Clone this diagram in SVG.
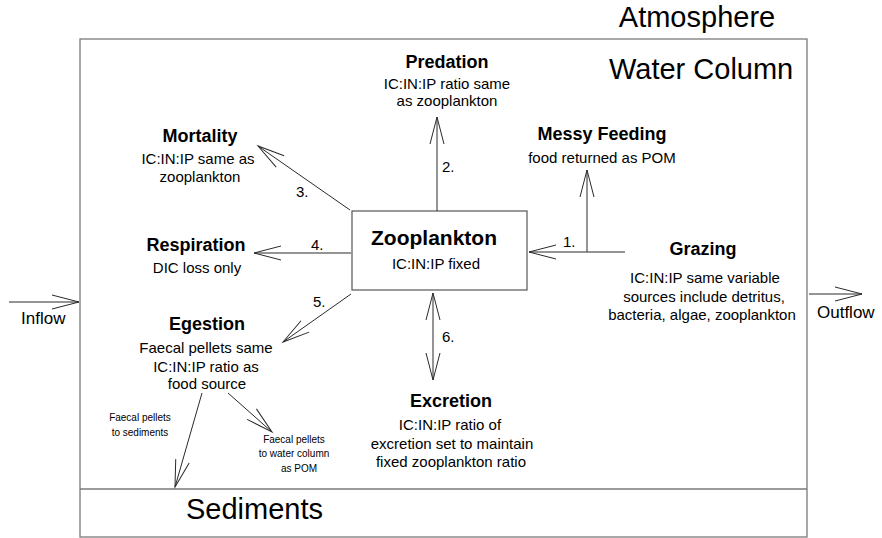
<svg xmlns="http://www.w3.org/2000/svg" width="882" height="538" viewBox="0 0 882 538">
  <style>
    text { font-family: "Liberation Sans", Arial, sans-serif; fill: #000; }
    .frame { fill: none; stroke: #7a7a7a; stroke-width: 1.3; }
    .box { fill: #fff; stroke: #555; stroke-width: 1.2; }
    .arrow { fill: none; stroke: #2a2a2a; stroke-width: 1; marker-end: url(#head); }
    .both { marker-start: url(#head); }
    .plain { fill: none; stroke: #2a2a2a; stroke-width: 1; }
    .zone { font-size: 29px; }
    .title { font-size: 18px; font-weight: bold; text-anchor: middle; }
    .main { font-size: 21px; font-weight: bold; text-anchor: middle; }
    .note { font-size: 15px; text-anchor: middle; }
    .small { font-size: 10px; text-anchor: middle; }
    .num { font-size: 15px; }
  </style>
  <defs>
    <!-- open V arrowhead, long and narrow -->
    <marker id="head" markerUnits="userSpaceOnUse" markerWidth="30" markerHeight="16" refX="0" refY="0" orient="auto-start-reverse" overflow="visible">
      <path d="M-27,-7 L0,0 L-27,7" fill="none" stroke="#2a2a2a" stroke-width="1"/>
    </marker>
  </defs>

  <!-- compartments -->
  <g id="water-column">
    <rect class="frame" x="80" y="39" width="727" height="498"/>
    <line class="frame" x1="80" y1="489" x2="807" y2="489"/>
    <text class="zone" x="609" y="79">Water Column</text>
  </g>
  <g id="atmosphere">
    <text class="zone" x="697" y="27" text-anchor="middle">Atmosphere</text>
  </g>
  <g id="sediments">
    <text class="zone" x="186" y="519">Sediments</text>
  </g>

  <!-- central state variable -->
  <g id="zooplankton">
    <rect class="box" x="352" y="211" width="175" height="79"/>
    <text class="main" x="434" y="245">Zooplankton</text>
    <text class="note" x="436" y="269">IC:IN:IP fixed</text>
  </g>

  <!-- process labels -->
  <g id="predation">
    <text class="title" x="447" y="68">Predation</text>
    <text class="note" x="447" y="89">IC:IN:IP ratio same</text>
    <text class="note" x="447" y="106">as zooplankton</text>
  </g>
  <g id="messy-feeding">
    <text class="title" x="602" y="140">Messy Feeding</text>
    <text class="note" x="602" y="163">food returned as POM</text>
  </g>
  <g id="mortality">
    <text class="title" x="200" y="142">Mortality</text>
    <text class="note" x="198" y="164">IC:IN:IP same as</text>
    <text class="note" x="200" y="182">zooplankton</text>
  </g>
  <g id="respiration">
    <text class="title" x="196" y="251">Respiration</text>
    <text class="note" x="197" y="273">DIC loss only</text>
  </g>
  <g id="grazing">
    <text class="title" x="703" y="255">Grazing</text>
    <text class="note" x="705" y="283">IC:IN:IP same variable</text>
    <text class="note" x="704" y="302">sources include detritus,</text>
    <text class="note" x="702" y="320">bacteria, algae, zooplankton</text>
  </g>
  <g id="egestion">
    <text class="title" x="207" y="330">Egestion</text>
    <text class="note" x="206" y="353">Faecal pellets same</text>
    <text class="note" x="206" y="372">IC:IN:IP ratio as</text>
    <text class="note" x="207" y="389">food source</text>
  </g>
  <g id="pellets-sediments">
    <text class="small" x="140" y="421">Faecal pellets</text>
    <text class="small" x="140" y="436">to sediments</text>
  </g>
  <g id="pellets-water">
    <text class="small" x="294" y="443">Faecal pellets</text>
    <text class="small" x="294" y="457">to water column</text>
    <text class="small" x="299" y="472">as POM</text>
  </g>
  <g id="excretion">
    <text class="title" x="451" y="407">Excretion</text>
    <text class="note" x="450" y="430">IC:IN:IP ratio of</text>
    <text class="note" x="452" y="449">excretion set to maintain</text>
    <text class="note" x="451" y="467">fixed zooplankton ratio</text>
  </g>
  <g id="inflow">
    <text x="21" y="324" font-size="17">Inflow</text>
  </g>
  <g id="outflow">
    <text x="817" y="318" font-size="17">Outflow</text>
  </g>

  <!-- connectors -->
  <g id="connectors">
    <line class="arrow" x1="625" y1="252" x2="529" y2="252"/>
    <line class="arrow" x1="587" y1="252" x2="587" y2="170"/>
    <line class="arrow" x1="437" y1="211" x2="437" y2="117"/>
    <line class="arrow" x1="350" y1="210" x2="258" y2="146"/>
    <line class="arrow" x1="351" y1="253" x2="254" y2="253"/>
    <line class="arrow" x1="351" y1="294" x2="283" y2="342"/>
    <line class="arrow both" x1="433" y1="293" x2="433" y2="380"/>
    <line class="arrow" x1="202" y1="393" x2="175" y2="487"/>
    <line class="arrow" x1="228" y1="393" x2="272" y2="432"/>
    <line class="arrow" x1="9" y1="302" x2="79" y2="302"/>
    <line class="arrow" x1="809" y1="294" x2="862" y2="294"/>
    <text class="num" x="563" y="247">1.</text>
    <text class="num" x="442" y="172">2.</text>
    <text class="num" x="296" y="197">3.</text>
    <text class="num" x="311" y="250">4.</text>
    <text class="num" x="313" y="307">5.</text>
    <text class="num" x="442" y="342">6.</text>
  </g>
</svg>
